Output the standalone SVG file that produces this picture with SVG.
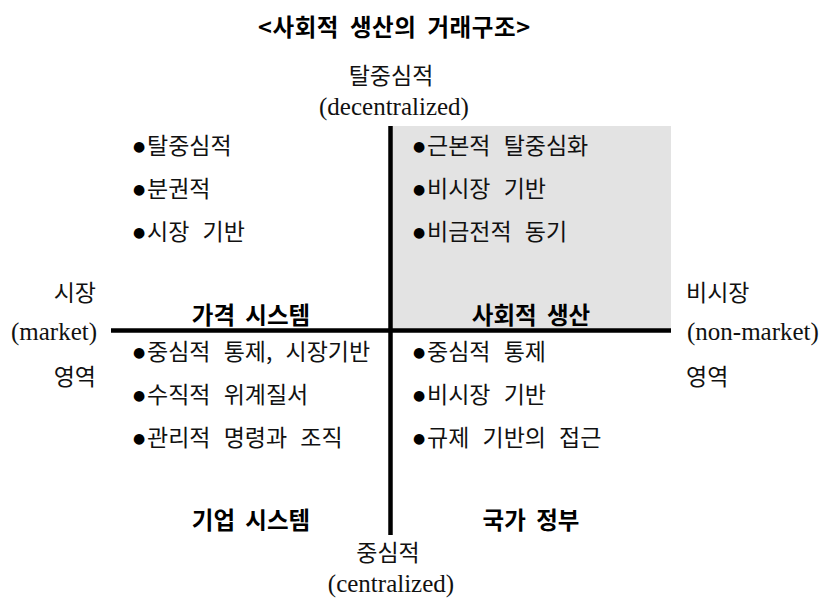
<svg xmlns="http://www.w3.org/2000/svg" width="822" height="603" viewBox="0 0 822 603">
<style>
  .ko { font-family: "Noto Sans CJK KR", "Noto Sans", sans-serif; font-size: 23px; fill: #111; word-spacing: 8px; }
  .ax { font-family: "Noto Sans CJK KR", "Noto Sans", sans-serif; font-size: 23px; fill: #111; }
  .la { font-family: "Liberation Serif", "Noto Sans CJK KR", serif; font-size: 25px; fill: #111; }
  .bd { font-family: "Noto Sans CJK KR", "Noto Sans", sans-serif; font-size: 23.5px; font-weight: bold; fill: #000; word-spacing: 5px; }
  .bu { font-family: "DejaVu Sans", sans-serif; font-size: 14px; fill: #000; }
  .axis { stroke: #000; stroke-width: 4.5; fill: none; }
</style>
<rect width="822" height="603" fill="#fff"/>

<g id="title">
  <text class="bd" x="394" y="36" text-anchor="middle" font-size="25" textLength="272" lengthAdjust="spacing">&lt;사회적 생산의 거래구조&gt;</text>
</g>

<g id="social-production-bg">
  <rect x="392" y="126" width="279" height="203" fill="#e3e3e3"/>
</g>

<g id="connectors">
  <line class="axis" x1="390.5" y1="126" x2="390.5" y2="535"/>
  <line class="axis" x1="111" y1="330.5" x2="671" y2="330.5"/>
</g>

<g id="axis-top">
  <text class="ax" x="391" y="84" text-anchor="middle">탈중심적</text>
  <text class="la" x="394" y="115" text-anchor="middle">(decentralized)</text>
</g>
<g id="axis-bottom">
  <text class="ax" x="388" y="561" text-anchor="middle">중심적</text>
  <text class="la" x="391" y="592" text-anchor="middle">(centralized)</text>
</g>
<g id="axis-left">
  <text class="ax" x="96" y="301" text-anchor="end">시장</text>
  <text class="la" x="97" y="340" text-anchor="end">(market)</text>
  <text class="ax" x="96" y="385" text-anchor="end">영역</text>
</g>
<g id="axis-right">
  <text class="ax" x="686" y="301">비시장</text>
  <text class="la" x="687" y="340">(non-market)</text>
  <text class="ax" x="686" y="385">영역</text>
</g>

<g id="price-system">
  <text class="bu" x="139" y="151" text-anchor="middle">●</text>
  <text class="ko" x="147" y="154">탈중심적</text>
  <text class="bu" x="139" y="194" text-anchor="middle">●</text>
  <text class="ko" x="147" y="197">분권적</text>
  <text class="bu" x="139" y="237" text-anchor="middle">●</text>
  <text class="ko" x="147" y="240">시장 기반</text>
  <text class="bd" x="251" y="324" text-anchor="middle">가격 시스템</text>
</g>

<g id="social-production">
  <text class="bu" x="419" y="151" text-anchor="middle">●</text>
  <text class="ko" x="427" y="154">근본적 탈중심화</text>
  <text class="bu" x="419" y="194" text-anchor="middle">●</text>
  <text class="ko" x="427" y="197">비시장 기반</text>
  <text class="bu" x="419" y="237" text-anchor="middle">●</text>
  <text class="ko" x="427" y="240">비금전적 동기</text>
  <text class="bd" x="531" y="324" text-anchor="middle">사회적 생산</text>
</g>

<g id="firm-system">
  <text class="bu" x="139" y="357" text-anchor="middle">●</text>
  <text class="ko" x="147" y="360">중심적 통제, 시장기반</text>
  <text class="bu" x="139" y="400" text-anchor="middle">●</text>
  <text class="ko" x="147" y="403">수직적 위계질서</text>
  <text class="bu" x="139" y="443" text-anchor="middle">●</text>
  <text class="ko" x="147" y="446">관리적 명령과 조직</text>
  <text class="bd" x="251" y="529" text-anchor="middle">기업 시스템</text>
</g>

<g id="state-government">
  <text class="bu" x="419" y="357" text-anchor="middle">●</text>
  <text class="ko" x="427" y="360">중심적 통제</text>
  <text class="bu" x="419" y="400" text-anchor="middle">●</text>
  <text class="ko" x="427" y="403">비시장 기반</text>
  <text class="bu" x="419" y="443" text-anchor="middle">●</text>
  <text class="ko" x="427" y="446">규제 기반의 접근</text>
  <text class="bd" x="531" y="529" text-anchor="middle">국가 정부</text>
</g>
</svg>
